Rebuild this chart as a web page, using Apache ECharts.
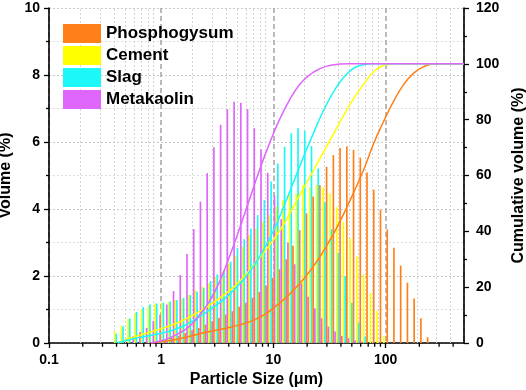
<!DOCTYPE html>
<html><head><meta charset="utf-8">
<script src="https://cdn.jsdelivr.net/npm/echarts@6/dist/echarts.min.js"></script>
<style>html,body{margin:0;padding:0;background:#fff}#c{width:526px;height:390px}</style>
</head><body><div id="c"></div>
<script>
// particle size classes (µm)
const sizes = [0.405, 0.465, 0.534, 0.613, 0.704, 0.808, 0.928, 1.065, 1.223, 1.404, 1.612, 1.851, 2.125, 2.44, 2.801, 3.216, 3.692, 4.239, 4.867, 5.588, 6.416, 7.366, 8.457, 9.71, 11.15, 12.8, 14.69, 16.87, 19.37, 22.24, 25.53, 29.31, 33.66, 38.64, 44.37, 50.94, 58.49, 67.15, 77.1, 88.52, 101.7, 116.7, 134.0, 153.9, 176.7, 202.9, 232.9];
// volume (%) per class
const phosphogysum = [0, 0, 0, 0, 0, 0, 0.03, 0.08, 0.15, 0.22, 0.3, 0.38, 0.45, 0.55, 0.65, 0.75, 0.85, 0.95, 1.08, 1.2, 1.35, 1.52, 1.72, 1.95, 2.2, 2.5, 2.9, 3.37, 3.87, 4.37, 4.72, 5.26, 5.61, 5.82, 5.87, 5.76, 5.53, 5.09, 4.57, 3.98, 3.39, 2.84, 2.31, 1.8, 1.33, 0.74, 0.17];
const cement = [0.35, 0.51, 0.72, 0.89, 1.0, 1.09, 1.18, 1.2, 1.22, 1.28, 1.33, 1.43, 1.58, 1.68, 1.78, 1.98, 2.13, 2.38, 2.6, 2.88, 3.22, 3.42, 3.62, 3.82, 4.07, 4.27, 4.42, 4.47, 4.72, 4.65, 4.72, 4.65, 4.47, 4.05, 3.62, 3.12, 2.58, 2.05, 1.48, 0.96, 0.21, 0, 0, 0, 0, 0, 0];
const slag = [0.28, 0.5, 0.73, 0.93, 1.07, 1.15, 1.18, 1.2, 1.24, 1.28, 1.35, 1.43, 1.53, 1.65, 1.85, 2.05, 2.18, 2.43, 2.83, 3.1, 3.42, 3.82, 4.27, 4.82, 5.36, 5.86, 6.26, 6.41, 6.33, 5.88, 5.21, 4.2, 3.4, 2.7, 2.0, 1.2, 0.6, 0.2, 0, 0, 0, 0, 0, 0, 0, 0, 0];
const metakaolin = [0, 0, 0.2, 0.33, 0.45, 0.65, 0.85, 1.15, 1.55, 2.03, 2.66, 3.4, 4.22, 5.07, 5.84, 6.51, 6.98, 7.2, 7.17, 6.98, 6.41, 5.78, 5.08, 4.4, 3.7, 3.0, 2.35, 1.78, 1.38, 1.04, 0.74, 0.49, 0.34, 0.21, 0.14, 0.08, 0.04, 0, 0, 0, 0, 0, 0, 0, 0, 0, 0];
// cumulative volume (%) curves
const pgCumSize = [0.788, 1.072, 1.458, 2.198, 3.313, 4.992, 6.787, 8.331, 10.23, 12.56, 15.41, 18.92, 23.23, 28.51, 35.01, 42.97, 52.75, 64.74, 77.5, 95.1, 116.8, 143.3, 176.0, 216.0, 265.2, 325.5, 500];
const pgCum = [0, 0.6, 1.5, 3.3, 4.8, 6.5, 8.3, 10.2, 12.8, 15.8, 19.3, 23.3, 28, 33.5, 39.7, 46.8, 54.5, 62.7, 71, 79, 86.3, 92.3, 96.5, 98.9, 99.9, 100, 100];
const cemCumSize = [0.41, 0.472, 0.58, 0.712, 0.873, 1.072, 1.316, 1.616, 1.983, 2.435, 2.989, 3.669, 4.504, 5.53, 6.787, 8.331, 10.23, 12.56, 15.41, 18.92, 23.23, 28.51, 35.01, 42.97, 52.75, 64.74, 77.5, 95.1, 116.8, 500];
const cemCum = [0, 1.0, 2.2, 3.3, 4.4, 5.5, 6.8, 8.4, 10.3, 12.4, 14.8, 17.4, 20.3, 24, 28.3, 32.7, 37.5, 43, 49.5, 56, 62.5, 69, 75.5, 82, 88, 93, 97, 99.4, 100, 100];
const slagCumSize = [0.41, 0.472, 0.58, 0.712, 0.873, 1.072, 1.316, 1.616, 1.983, 2.435, 2.989, 3.669, 4.504, 5.53, 6.787, 8.331, 10.23, 12.56, 15.41, 18.92, 23.23, 28.51, 35.01, 42.97, 52.75, 64.74, 77.5, 500];
const slagCum = [0, 0.8, 1.6, 2.3, 3.0, 3.8, 4.8, 6.3, 8.3, 10.6, 13.1, 15.9, 19.2, 23.2, 28, 34, 41, 49.5, 58.5, 67.5, 76, 84, 90.5, 95.5, 98.6, 99.8, 100, 100];
const mkCumSize = [0.788, 0.968, 1.188, 1.458, 1.79, 2.198, 2.698, 3.313, 4.066, 4.992, 6.127, 7.519, 9.23, 11.33, 13.91, 17.08, 20.96, 25.74, 31.6, 38.79, 47.61, 500];
const mkCum = [0, 0.6, 1.8, 3.6, 6, 10, 15, 22, 31, 41, 51.5, 62, 71.5, 80, 87, 92.5, 96, 98.2, 99.4, 99.9, 100, 100];
// axis ticks
const xMajor = [0.1, 1, 10, 100];
const xMinor = [0.2, 0.3, 0.4, 0.5, 0.6, 0.7, 0.8, 0.9, 2, 3, 4, 5, 6, 7, 8, 9, 20, 30, 40, 50, 60, 70, 80, 90, 200, 300, 400];

const C = { orange: '#ff8019', yellow: '#ffff00', cyan: '#1cf7f7', magenta: '#df66fb' };
const FONT = 'Arial, "Liberation Sans", sans-serif';
const chart = echarts.init(document.getElementById('c'));

function bars(vals) { return sizes.map((s, i) => vals[i] > 0 ? [s, vals[i]] : null).filter(Boolean); }
function pairs(xs, ys) { return xs.map((x, i) => [x, ys[i]]); }

const series = [];
[['Cement', cement, C.yellow], ['Slag', slag, C.cyan], ['Phosphogysum', phosphogysum, C.orange], ['Metakaolin', metakaolin, C.magenta]]
  .forEach(([n, v, c], i) => {
    const s = {
      type: 'bar', name: n, data: bars(v), barWidth: 1.68, barGap: '0%',
      itemStyle: { color: c }, xAxisIndex: 0, yAxisIndex: 0, z: 2, silent: true
    };
    if (i === 0) {
      // minor vertical grid lines
      s.markLine = {
        silent: true, symbol: ['none', 'none'], label: { show: false }, z: 1, animation: false,
        lineStyle: { color: '#d4d4d4', type: [2, 2], width: 1 },
        emphasis: { disabled: true },
        data: xMinor.map(x => ({ xAxis: x }))
      };
    }
    series.push(s);
  });
[['PG cum', pgCumSize, pgCum, C.orange], ['Cement cum', cemCumSize, cemCum, C.yellow], ['Slag cum', slagCumSize, slagCum, C.cyan], ['MK cum', mkCumSize, mkCum, C.magenta]]
  .forEach(([n, xs, ys, c]) => series.push({
    type: 'line', name: n, data: pairs(xs, ys), yAxisIndex: 1, smooth: 0.5,
    showSymbol: false, symbol: 'none', lineStyle: { color: c, width: 1.5 }, itemStyle: { color: c }, z: 5, silent: true
  }));
// minor ticks on the x axis
series.push({
  type: 'custom', data: xMinor.map(v => [v, 5]), encode: { x: 0, y: 1 }, clip: false, z: 9,
  renderItem: (params, api) => {
    const v = api.value(0);
    const p0 = api.coord([v, 0]);
    return { type: 'line', shape: { x1: p0[0], y1: p0[1], x2: p0[0], y2: p0[1] + 3.8 },
      style: { stroke: '#000', lineWidth: 1.3 } };
  }
});

const labelStyle = { color: '#000', fontFamily: FONT, fontWeight: 'bold', fontSize: 14 };
const nameStyle = { color: '#000', fontFamily: FONT, fontWeight: 'bold', fontSize: 16 };

chart.setOption({
  animation: false,
  grid: { left: 49, right: 62, top: 8, bottom: 47, containLabel: false, outerBoundsMode: 'none' },
  legend: {
    data: ['Phosphogysum', 'Cement', 'Slag', 'Metakaolin'],
    orient: 'vertical', left: 63, top: 24, padding: 0, itemWidth: 38, itemHeight: 19, itemGap: 3,
    icon: 'rect', selectedMode: false,
    textStyle: { color: '#000', fontFamily: FONT, fontWeight: 'bold', fontSize: 17 }
  },
  xAxis: {
    type: 'log', logBase: 10, min: 0.1, max: 500,
    name: 'Particle Size (\u03bcm)', nameLocation: 'middle', nameGap: 26, nameTextStyle: nameStyle,
    axisLine: { show: true, onZero: false, lineStyle: { color: '#000', width: 1.6 } },
    axisTick: { show: true, inside: false, length: 5, lineStyle: { color: '#000', width: 1.3 } },
    axisLabel: {
      ...labelStyle, margin: 10, showMaxLabel: false,
      formatter: v => {
        const l = Math.log10(v);
        const p = +Math.pow(10, Math.round(l)).toPrecision(3);
        return Math.abs(l - Math.round(l)) < 1e-6 && xMajor.indexOf(p) >= 0 ? String(p) : '';
      }
    },
    splitLine: { show: true, lineStyle: { color: '#a3a3a3', type: [5, 3], width: 1.5 } },
    minorTick: { show: false }
  },
  yAxis: [{
    type: 'value', min: 0, max: 10, interval: 2, position: 'left',
    name: 'Volume (%)', nameLocation: 'middle', nameGap: 29, nameTextStyle: nameStyle,
    axisLine: { show: true, lineStyle: { color: '#000', width: 1.6 } },
    axisTick: { show: true, inside: false, length: 5, lineStyle: { color: '#000', width: 1.3 } },
    minorTick: { show: true, splitNumber: 2, length: 3, lineStyle: { color: '#000', width: 1.3 } },
    axisLabel: { ...labelStyle, margin: 9 },
    splitLine: { show: true, lineStyle: { color: '#c8c8c8', type: [2, 2], width: 1 } },
    minorSplitLine: { show: true, lineStyle: { color: '#dedede', type: [2, 2], width: 1 } }
  }, {
    type: 'value', min: 0, max: 120, interval: 20, position: 'right',
    name: 'Cumulative volume (%)', nameLocation: 'middle', nameGap: 45, nameTextStyle: nameStyle,
    axisLine: { show: true, lineStyle: { color: '#000', width: 1.6 } },
    axisTick: { show: true, inside: false, length: 5, lineStyle: { color: '#000', width: 1.3 } },
    minorTick: { show: true, splitNumber: 2, length: 3, lineStyle: { color: '#000', width: 1.3 } },
    axisLabel: { ...labelStyle, margin: 12 },
    splitLine: { show: false }
  }],
  series
});
</script>
</body></html>
